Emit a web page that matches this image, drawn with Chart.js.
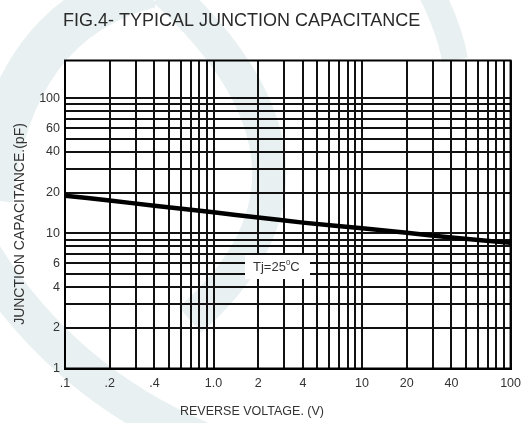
<!DOCTYPE html>
<html>
<head>
<meta charset="utf-8">
<script src="https://cdn.jsdelivr.net/npm/chart.js@4/dist/chart.umd.min.js"></script>
<style>
  html, body { margin: 0; padding: 0; background: #fff; }
  #wrap { width: 529px; height: 423px; }
</style>
</head>
<body>
<div id="wrap"><canvas id="chart" width="529" height="423"></canvas></div>
<script>
// curve
const voltage = [0.1, 0.2, 0.4, 1, 2, 4, 10, 20, 40, 100];
const capacitance = [19.0, 17.5, 16.0, 14.3, 13.1, 12.0, 10.9, 10.1, 9.3, 8.5];

// grid lines
const xGrid = [0.1, 0.2, 0.3, 0.4, 0.5, 0.6, 0.7, 0.8, 0.9,
  1, 2, 3, 4, 5, 6, 7, 8, 9,
  10, 20, 30, 40, 50, 60, 70, 80, 90, 100];
const yGrid = [1, 2, 3, 4, 5, 6, 7, 8, 9,
  10, 20, 30, 40, 50, 60, 70, 80, 90, 100];

// labelled ticks
const xLabelValues = [0.1, 0.2, 0.4, 1, 2, 4, 10, 20, 40, 100];
const xLabelText = [".1", ".2", ".4", "1.0", "2", "4", "10", "20", "40", "100"];
const yLabelValues = [1, 2, 4, 6, 10, 20, 40, 60, 100];
const yLabelText = ["1", "2", "4", "6", "10", "20", "40", "60", "100"];

function labelFor(values, texts, v) {
  const i = values.findIndex(x => Math.abs(x - v) / x < 1e-6);
  return i >= 0 ? texts[i] : "";
}

const tickFont = { family: "'Liberation Sans', Arial, sans-serif", size: 12.5 };

// faint logo in the background, frame and texts
const decor = {
  id: "decor",
  beforeDraw(chart) {
    const ctx = chart.ctx;
    ctx.save();
    ctx.fillStyle = "#fff";
    ctx.fillRect(0, 0, chart.width, chart.height);
    ctx.strokeStyle = "rgba(200,219,222,0.42)";
    ctx.lineCap = "butt";
    ctx.lineWidth = 34;
    ctx.beginPath();
    ctx.moveTo(165, -10);
    ctx.quadraticCurveTo(360, 170, 190, 320);
    ctx.stroke();
    ctx.lineWidth = 46;
    ctx.beginPath();
    ctx.moveTo(150, -15);
    ctx.quadraticCurveTo(10, 20, -10, 200);
    ctx.stroke();
    ctx.lineWidth = 38;
    ctx.beginPath();
    ctx.moveTo(-20, 250);
    ctx.quadraticCurveTo(60, 380, 200, 440);
    ctx.stroke();
    ctx.lineWidth = 26;
    ctx.beginPath();
    ctx.moveTo(430, -10);
    ctx.quadraticCurveTo(450, 30, 455, 60);
    ctx.stroke();
    ctx.restore();
  },
  afterDraw(chart) {
    const ctx = chart.ctx;
    const a = chart.chartArea;
    ctx.save();
    ctx.strokeStyle = "#000";
    ctx.lineWidth = 2;
    ctx.strokeRect(a.left, a.top, a.right - a.left, a.bottom - a.top);

    ctx.fillStyle = "#2a2a2a";
    ctx.textBaseline = "middle";
    ctx.font = "18px 'Liberation Sans', Arial, sans-serif";
    ctx.textAlign = "left";
    ctx.fillText("FIG.4- TYPICAL JUNCTION CAPACITANCE", 63, 21);

    ctx.fillStyle = "#333";
    ctx.font = "12.5px 'Liberation Sans', Arial, sans-serif";
    ctx.textAlign = "center";
    ctx.fillText("REVERSE VOLTAGE. (V)", 252, 412);

    ctx.save();
    ctx.translate(20, 224);
    ctx.rotate(-Math.PI / 2);
    ctx.font = "14px 'Liberation Sans', Arial, sans-serif";
    ctx.fillText("JUNCTION CAPACITANCE.(pF)", 0, 0);
    ctx.restore();

    // Tj label on a white box
    ctx.fillStyle = "#fff";
    ctx.fillRect(245, 255, 65, 24);
    ctx.fillStyle = "#333";
    ctx.textAlign = "left";
    ctx.font = "13px 'Liberation Sans', Arial, sans-serif";
    ctx.fillText("Tj=25", 253, 267);
    const w = ctx.measureText("Tj=25").width;
    ctx.font = "8px 'Liberation Sans', Arial, sans-serif";
    ctx.fillText("0", 253 + w, 263);
    const w2 = ctx.measureText("0").width;
    ctx.font = "13px 'Liberation Sans', Arial, sans-serif";
    ctx.fillText("C", 253 + w + w2, 267);
    ctx.restore();
  }
};

new Chart(document.getElementById("chart"), {
  type: "line",
  data: {
    datasets: [{
      data: voltage.map((v, i) => ({ x: v, y: capacitance[i] })),
      borderColor: "#000",
      borderWidth: 4.5,
      pointRadius: 0,
      tension: 0.2,
      fill: false
    }]
  },
  options: {
    responsive: false,
    animation: false,
    layout: { padding: { top: 60.5, right: 17, bottom: 0, left: 0 } },
    plugins: { legend: { display: false }, tooltip: { enabled: false } },
    scales: {
      x: {
        type: "logarithmic",
        min: 0.1,
        max: 100,
        afterBuildTicks: s => { s.ticks = xGrid.map(v => ({ value: v })); },
        afterFit: s => { s.height = 54.5; },
        grid: { color: "#111", lineWidth: 2, drawTicks: false },
        border: { display: true, color: "#000", width: 2 },
        ticks: {
          autoSkip: false,
          maxRotation: 0,
          padding: 8,
          color: "#333",
          font: tickFont,
          callback: v => labelFor(xLabelValues, xLabelText, v)
        }
      },
      y: {
        type: "logarithmic",
        min: 1,
        max: 190,
        afterBuildTicks: s => { s.ticks = yGrid.map(v => ({ value: v })); },
        afterFit: s => { s.width = 65; },
        grid: { color: "#111", lineWidth: 2, drawTicks: false },
        border: { display: true, color: "#000", width: 2 },
        ticks: {
          autoSkip: false,
          padding: 5,
          color: "#333",
          font: tickFont,
          callback: v => labelFor(yLabelValues, yLabelText, v)
        }
      }
    }
  },
  plugins: [decor]
});
</script>
</body>
</html>
